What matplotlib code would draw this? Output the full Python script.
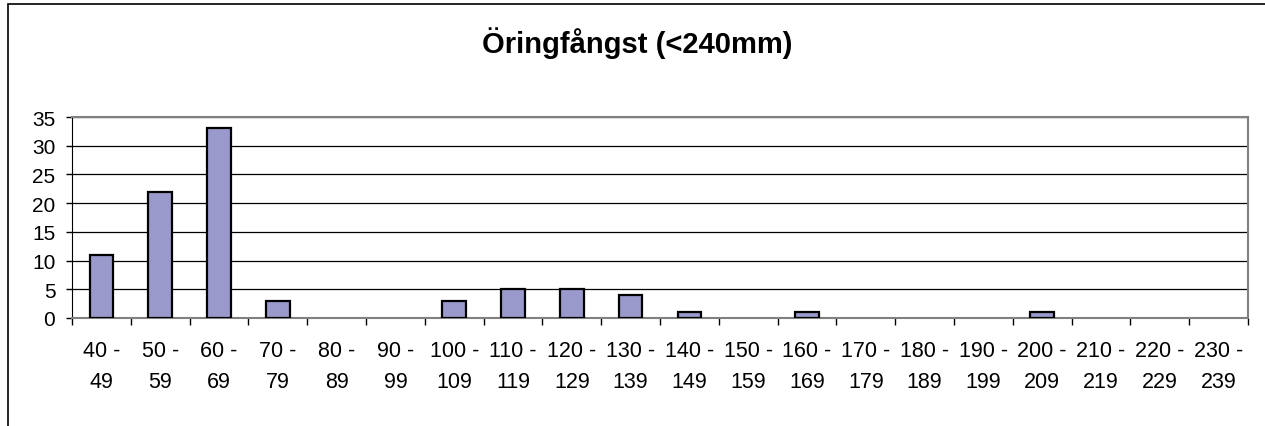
import matplotlib.pyplot as plt
import matplotlib.patches as mpatches
import numpy as np

plt.rcParams['font.family'] = ['Liberation Sans', 'DejaVu Sans']

# length classes (mm) and number of trout caught
class_start = [40, 50, 60, 70, 80, 90, 100, 110, 120, 130,
               140, 150, 160, 170, 180, 190, 200, 210, 220, 230]
class_end = [49, 59, 69, 79, 89, 99, 109, 119, 129, 139,
             149, 159, 169, 179, 189, 199, 209, 219, 229, 239]
catch = [11, 22, 33, 3, 0, 0, 3, 5, 5, 4,
         1, 0, 1, 0, 0, 0, 1, 0, 0, 0]
y_ticks = [0, 5, 10, 15, 20, 25, 30, 35]

labels = [str(a) + ' -\n' + str(b) for a, b in zip(class_start, class_end)]

fig = plt.figure(figsize=(12.65, 4.27), dpi=100)
ax = fig.add_axes([72 / 1265, 1 - 319 / 427, (1248 - 72) / 1265, (319 - 118) / 427])

# outer chart border (cut off on the right and bottom)
fig.patches.append(mpatches.Rectangle((8 / 1265, -0.1), 1.2, 1 - 5 / 427 + 0.1,
                                      transform=fig.transFigure, fill=False,
                                      edgecolor='black', linewidth=1.2))

x = np.arange(len(catch))
# excel draws nothing for empty classes
edges = ['black' if v > 0 else 'none' for v in catch]
ax.bar(x, catch, width=0.4, color='#9999cc', edgecolor=edges, linewidth=1.6, zorder=3)

ax.set_xlim(-0.5, len(catch) - 0.5)
ax.set_ylim(0, 35)
ax.set_yticks(y_ticks)
ax.yaxis.grid(True, color='black', linewidth=0.9)
ax.set_axisbelow(True)

ax.set_xticks(x)
ax.set_xticklabels(labels, fontsize=15.5, linespacing=1.6)
ax.tick_params(axis='x', length=0, pad=16)
ax.set_xticks(np.arange(len(catch) + 1) - 0.5, minor=True)
ax.tick_params(axis='x', which='minor', length=5, width=1, color='black', direction='out')
ax.tick_params(axis='y', labelsize=15, length=4, width=1, pad=8)

for side in ['top', 'right']:
    ax.spines[side].set_color('#808080')
    ax.spines[side].set_linewidth(1.5)
ax.spines['left'].set_color('black')
ax.spines['bottom'].set_color('#808080')
ax.spines['bottom'].set_linewidth(1.5)

fig.text(637 / 1265, 1 - 43 / 427, 'Öringfångst (<240mm)', ha='center', va='center',
         fontsize=21, fontweight='bold')

fig.savefig('out.png', dpi=100)
